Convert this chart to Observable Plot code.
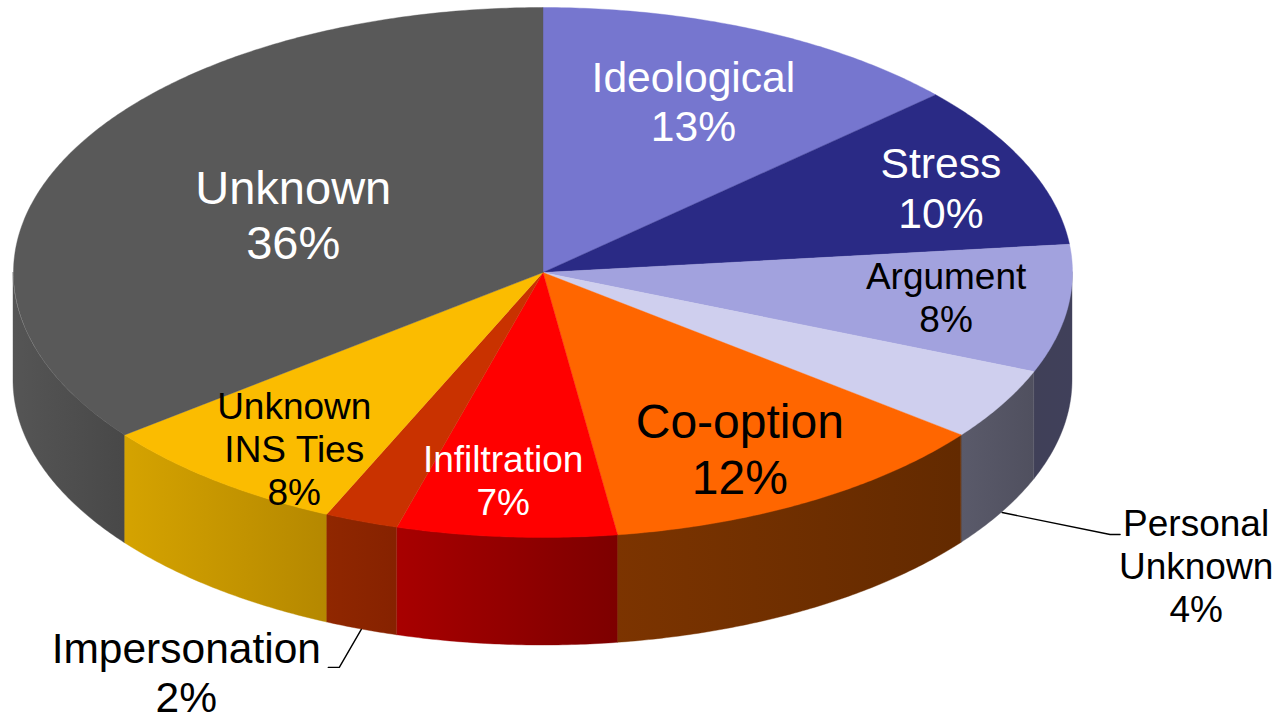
<!DOCTYPE html>
<html><head><meta charset="utf-8">
<style>html,body{margin:0;padding:0;background:#fff}svg{display:block}</style>
<script src="https://cdn.jsdelivr.net/npm/d3@7"></script>
<script src="https://cdn.jsdelivr.net/npm/@observablehq/plot@0.6"></script>
</head><body><script>
const names = ["Ideological","Stress","Argument","Personal Unknown","Co-option","Infiltration","Impersonation","Unknown INS Ties","Unknown"];
const shares = [13.3,10.0,7.8,4.4,12.25,6.7,2.25,7.8,35.5];
const printed = ["13%","10%","8%","4%","12%","7%","2%","8%","36%"];
const lineBreaks = ["Ideological","Stress","Argument","Personal\nUnknown","Co-option","Infiltration","Impersonation","Unknown\nINS Ties","Unknown"];

// Styles
const topColors = ["#7676cf","#2a2a85","#a2a2de","#cfcfee","#ff6600","#ff0000","#c93200","#fbbc00","#595959"];
const sideFrom = ["#50507e","#24245e","#404058","#5a5a6a","#7c3400","#a80000","#902700","#d5a300","#555555"];
const sideTo = ["#50507e","#24245e","#40405a","#50505f","#632a00","#7d0000","#862200","#b58800","#484848"];
const textColors = ["#fff","#fff","#000","#000","#000","#fff","#000","#000","#fff"];
const fontSizes = [42.6,42.6,37,37,48,37,42.5,37,47];
// Label layout: radial fraction along the slice's mid-angle plus pixel nudges
const labelR = [0.7,0.78,0.74,1,0.77,0.79,1,0.8,0.5];
const labelDx = [0,21,15,194,-8,-11,-175,13,-12];
const labelDy = [-2,-1,-3,161,-1,-2,150,9,0];

// Projection: a unit pie tilted into an ellipse
const W = 1283, H = 720, cx = 542.5, cy = 272, rx = 529.5, ry = 265, depth = 108;
const xDomain = [-cx / rx, (W - cx) / rx];
const yDomain = [cy / ry, (cy - H) / ry];
const zDepth = depth / ry;
const total = d3.sum(shares);
let run = 0;
const slices = names.map((name, i) => {
  const a0 = run / total * 360; run += shares[i]; const a1 = run / total * 360;
  return {name, i, a0, a1, mid: (a0 + a1) / 2};
});
const rad = d => d * Math.PI / 180;
const px = (r, a) => r * Math.sin(rad(a));
const py = (r, a) => r * Math.cos(rad(a));
function arc(a0, a1) {
  const n = Math.max(2, Math.ceil((a1 - a0) * 2)), out = [];
  for (let k = 0; k <= n; ++k) out.push(a0 + (a1 - a0) * k / n);
  return out;
}
const marks = [];
// gradient definitions
marks.push(() => {
  const ns = "http://www.w3.org/2000/svg";
  const defs = document.createElementNS(ns, "defs");
  slices.forEach(s => {
    const g = document.createElementNS(ns, "linearGradient");
    g.setAttribute("id", "side" + s.i);
    g.setAttribute("x1", "0"); g.setAttribute("x2", "1"); g.setAttribute("y1", "0"); g.setAttribute("y2", "0");
    [[0, sideFrom[s.i]], [1, sideTo[s.i]]].forEach(([o, c]) => {
      const st = document.createElementNS(ns, "stop");
      st.setAttribute("offset", o); st.setAttribute("stop-color", c);
      g.appendChild(st);
    });
    defs.appendChild(g);
  });
  return defs;
});
// Front wall of each slice, only where the rim faces the viewer
slices.forEach(s => {
  const from = Math.max(s.a0, 90), to = Math.min(s.a1, 270);
  if (to <= from) return;
  const pts = arc(from, to).map(a => ({x: px(1, a), y1: py(1, a), y2: py(1, a) - zDepth}));
  marks.push(Plot.area(pts, {x1: "x", y1: "y1", y2: "y2", fill: `url(#side${s.i})`, stroke: `url(#side${s.i})`, strokeWidth: 0.4, curve: "linear"}));
});
// Top surface
slices.forEach(s => {
  const pts = [{x: 0, y: 0}, ...arc(s.a0, s.a1).map(a => ({x: px(1, a), y: py(1, a)}))];
  marks.push(Plot.line([...pts, pts[0]], {x: "x", y: "y", fill: topColors[s.i], stroke: topColors[s.i], strokeWidth: 0.4, curve: "linear"}));
});
// Leader lines for the outside labels
const leader = (i, segs) => {
  const s = slices[i];
  let x = px(1, s.mid), y = py(1, s.mid) - zDepth;
  const pts = [{x, y}];
  segs.forEach(([dx, dy]) => { x += dx / rx; y -= dy / ry; pts.push({x, y}); });
  marks.push(Plot.line(pts, {x: "x", y: "y", stroke: "#000", strokeWidth: 1.4, curve: "linear"}));
};
leader(3, [[108, 22], [10, 0]]);
leader(6, [[-22, 38], [-11, 0]]);
// Labels
slices.forEach(s => {
  marks.push(Plot.text([s], {
    x: d => px(labelR[d.i], d.mid), y: d => py(labelR[d.i], d.mid),
    text: d => lineBreaks[d.i] + "\n" + printed[d.i],
    dx: labelDx[s.i], dy: labelDy[s.i],
    fill: textColors[s.i], fontSize: fontSizes[s.i],
    fontFamily: "'Liberation Sans', Arial, sans-serif",
    lineHeight: 1.16, textAnchor: "middle", lineAnchor: "middle"
  }));
});
document.body.appendChild(Plot.plot({
  width: W, height: H, margin: 0,
  x: {domain: xDomain, range: [0, W], axis: null},
  y: {domain: yDomain, range: [0, H], axis: null},
  marks
}));
</script></body></html>
